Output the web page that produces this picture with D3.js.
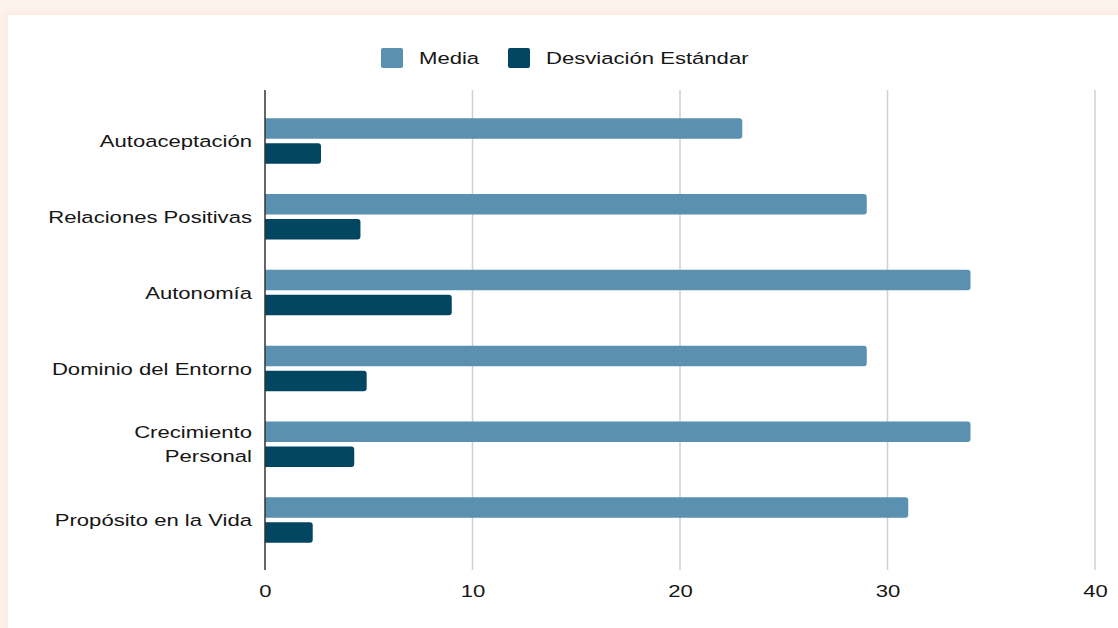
<!DOCTYPE html>
<html><head><meta charset="utf-8">
<script src="https://cdn.jsdelivr.net/npm/d3@7"></script>
<style>
html,body{margin:0;padding:0;width:1118px;height:628px;overflow:hidden;background:#fdf4ef;}
#card{position:absolute;left:8px;top:15px;width:1110px;height:613px;background:#fff;box-shadow:0 0 8px 4px #fbebe2;}
svg{position:absolute;left:0;top:0;}
text{font-family:"Liberation Sans",Arial,sans-serif;fill:#161616;}
</style></head><body>
<div id="card"></div>
<svg id="chart" width="1118" height="628"></svg>
<script>
const categories = ["Autoaceptación","Relaciones Positivas","Autonomía","Dominio del Entorno","Crecimiento Personal","Propósito en la Vida"];
const media = [23, 29, 34, 29, 34, 31];
const desviacion = [2.7, 4.6, 9.0, 4.9, 4.3, 2.3];
const seriesNames = ["Media","Desviación Estándar"];
const colors = ["#5a91b0","#024662"];
const xTicks = [0,10,20,30,40];

const SX = 1.27; // horizontal stretch of the text seen in the reference
const FS = "17.4px";
const svg = d3.select("#chart");
const x = d3.scaleLinear().domain([0,40]).range([265,1095]);
const y = d3.scaleBand().domain(categories).range([103,558]);
const plotTop = 90, plotBottom = 570;

// gridlines
svg.append("g").selectAll("line").data(xTicks.filter(d=>d>0)).join("line")
  .attr("x1",d=>x(d)).attr("x2",d=>x(d)).attr("y1",plotTop).attr("y2",plotBottom)
  .attr("stroke","#d0d0d0").attr("stroke-width",1.5);

// x axis tick labels
const xAxis = d3.axisBottom(x).tickValues(xTicks).tickSize(0).tickPadding(0);
const gx = svg.append("g").attr("transform",`translate(0,${plotBottom+15})`).call(xAxis);
gx.select(".domain").remove();
gx.selectAll("text").style("font-size",FS).attr("dy","0.71em").attr("fill","#161616")
  .style("font-family","'Liberation Sans',Arial,sans-serif")
  .attr("transform",`scale(${SX},1)`);

const bh = 20.5, gap = 4.5;
function roundRight(x0, y0, w, h, r){
  r = Math.min(r, w, h/2);
  return `M${x0},${y0}H${x0+w-r}Q${x0+w},${y0} ${x0+w},${y0+r}V${y0+h-r}Q${x0+w},${y0+h} ${x0+w-r},${y0+h}H${x0}Z`;
}
const data = categories.map((c,i)=>({c, vals:[media[i], desviacion[i]]}));
const g = svg.append("g");
data.forEach(d=>{
  const cy = y(d.c) + y.bandwidth()/2;
  d.vals.forEach((v,j)=>{
    const y0 = j===0 ? cy - gap/2 - bh : cy + gap/2;
    g.append("path").attr("d", roundRight(x(0), y0, x(v)-x(0), bh, 3)).attr("fill", colors[j]);
  });
});

// y axis line
svg.append("line").attr("x1",x(0)).attr("x2",x(0)).attr("y1",plotTop).attr("y2",plotBottom)
  .attr("stroke","#333").attr("stroke-width",1.5);

// category labels
data.forEach(d=>{
  const cy = y(d.c) + y.bandwidth()/2;
  const t = svg.append("text").attr("transform",`translate(252,${cy}) scale(${SX},1)`)
    .attr("text-anchor","end").style("font-size",FS);
  if(d.c === "Crecimiento Personal"){
    t.append("tspan").attr("x",0).attr("y",-12).attr("dy","0.35em").text("Crecimiento");
    t.append("tspan").attr("x",0).attr("y",12).attr("dy","0.35em").text("Personal");
  } else {
    t.attr("x",0).attr("y",0).attr("dy","0.35em").text(d.c);
  }
});

// legend
const legX = [381, 508];
seriesNames.forEach((s,i)=>{
  svg.append("rect").attr("x",legX[i]).attr("y",48).attr("width",22).attr("height",20).attr("rx",2).attr("fill",colors[i]);
  svg.append("text").attr("transform",`translate(${legX[i]+38},58) scale(${SX},1)`)
    .attr("dy","0.35em").style("font-size",FS).text(s);
});
</script>
</body></html>
